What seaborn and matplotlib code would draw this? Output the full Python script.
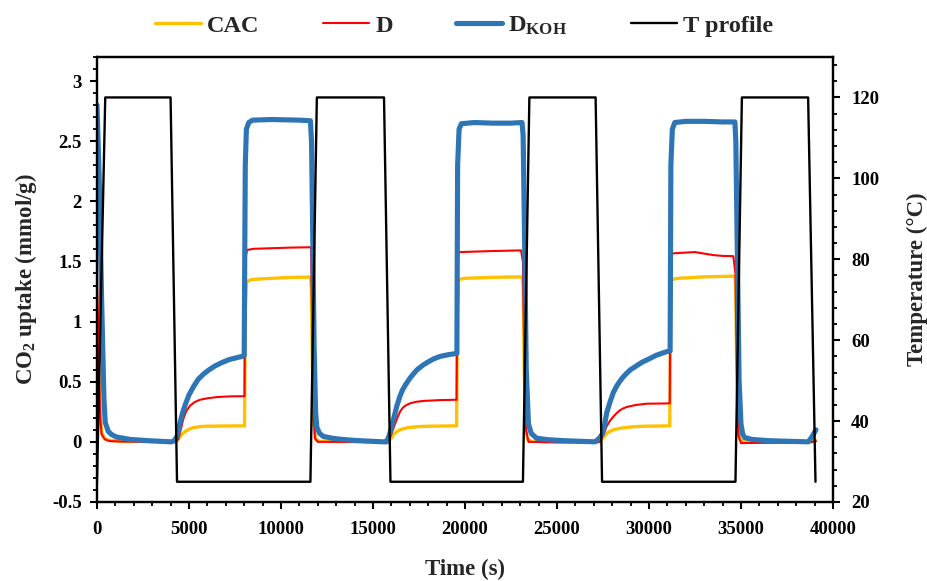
import matplotlib
matplotlib.use("Agg")
import matplotlib.pyplot as plt
import pandas as pd
import seaborn as sns
from matplotlib.lines import Line2D
from matplotlib.ticker import MultipleLocator, FuncFormatter

# ---------------- data ----------------
# Temperature programme (s, degC)
t_profile_time = [0, 450, 4000, 4350, 11600, 11950, 15600, 15950,
                  23150, 23500, 27100, 27450, 34700, 35050, 38650, 39050]
t_profile_temp = [25, 120, 120, 25, 25, 120, 120, 25,
                  25, 120, 120, 25, 25, 120, 120, 25]

# CO2 uptake of CAC (mmol/g)
cac_time = [0, 80, 160, 254, 400, 600, 1200, 2500, 4000,
            4300, 4450, 4600, 4783, 5000, 5235, 5600, 6000, 7000, 8020,
            8060, 8120, 8400, 9500, 10500, 11600,
            11650, 11700, 11780, 11880, 12100, 14000, 15600,
            15800, 16000, 16103, 16300, 16467, 16700, 17011, 17500, 18000, 19545,
            19590, 19650, 20000, 21500, 23100,
            23160, 23220, 23300, 23400, 23600, 25500, 27100,
            27350, 27483, 27600, 27700, 27880, 28062, 28400, 28787, 29300,
            29800, 31130,
            31170, 31230, 31600, 33000, 34670,
            34710, 34770, 34850, 34950, 35200, 37000, 38700, 39076]
cac_val = [1.10, 0.60, 0.25, 0.08, 0.03, 0.015, 0.006, 0.002, 0.0,
           0.0, 0.03, 0.06, 0.085, 0.105, 0.118, 0.127, 0.13, 0.132, 0.133,
           1.10, 1.33, 1.35, 1.36, 1.367, 1.37,
           1.30, 0.70, 0.15, 0.02, 0.005, 0.001, 0.0,
           0.0, 0.03, 0.058, 0.085, 0.10, 0.112, 0.12, 0.127, 0.13, 0.133,
           1.10, 1.35, 1.36, 1.368, 1.372,
           1.30, 0.60, 0.10, 0.02, 0.005, 0.001, 0.0,
           0.0, 0.03, 0.05, 0.07, 0.087, 0.10, 0.112, 0.12, 0.127,
           0.13, 0.133,
           1.10, 1.35, 1.36, 1.372, 1.378,
           1.30, 0.60, 0.10, 0.02, 0.005, 0.001, 0.0, 0.01]

# CO2 uptake of D (mmol/g)
d_time = [0, 60, 120, 180, 254, 435, 700, 1500, 4000,
          4200, 4420, 4550, 4692, 4850, 5054, 5300, 5598, 6000, 6500, 7200,
          8020,
          8050, 8150, 8500, 9500, 10500, 11600,
          11640, 11700, 11780, 11850, 12000, 14000, 15600,
          15740, 15850, 16012, 16200, 16350, 16467, 16600, 16750, 17011,
          17350, 17736, 18600, 19545,
          19580, 19650, 19765, 21359, 23044,
          23150, 23230, 23320, 23450, 25000, 27065,
          27300, 27483, 27600, 27700, 27880, 28062, 28250, 28400, 28600,
          28787, 29300, 29874, 31130,
          31160, 31266, 31800, 32500, 33000, 33496, 34000, 34583,
          34700, 34780, 34870, 35000, 36500, 38700, 39076]
d_val = [1.37, 1.00, 0.50, 0.20, 0.06, 0.02, 0.006, 0.002, 0.0,
         0.0, 0.02, 0.10, 0.19, 0.255, 0.30, 0.33, 0.35, 0.362, 0.372, 0.378,
         0.38,
         1.50, 1.595, 1.605, 1.61, 1.615, 1.618,
         1.60, 0.90, 0.20, 0.03, 0.0, 0.0, 0.0,
         0.0, 0.02, 0.07, 0.15, 0.21, 0.25, 0.28, 0.30, 0.32,
         0.333, 0.34, 0.347, 0.35,
         1.40, 1.575, 1.578, 1.586, 1.592,
         1.50, 0.60, 0.10, 0.0, -0.005, -0.005,
         0.0, 0.05, 0.09, 0.13, 0.175, 0.21, 0.24, 0.26, 0.278,
         0.29, 0.307, 0.317, 0.32,
         1.40, 1.567, 1.572, 1.578, 1.565, 1.553, 1.546, 1.544,
         1.40, 0.50, 0.05, -0.01, -0.008, -0.005, 0.005]

# CO2 uptake of D_KOH (mmol/g)
dkoh_time = [0, 120, 250, 380, 450, 616, 800, 1070, 1800, 3000, 4054,
             4200, 4364, 4500, 4650, 4800, 5000, 5250, 5500, 5800, 6100,
             6400, 6800, 7200, 7600, 8000,
             8060, 8120, 8250, 8450, 9500, 11000, 11600,
             11660, 11720, 11800, 11880, 11950, 12100, 12300, 12800, 13200,
             14000, 15000, 15600,
             15740, 15900, 16103, 16300, 16467, 16600, 16750, 17011, 17200,
             17400, 17736, 18000, 18300, 18641, 19100, 19560,
             19600, 19680, 19800, 20500, 21500, 22500, 23100,
             23160, 23230, 23330, 23450, 23600, 23897, 24500, 25342, 26200,
             27065,
             27300, 27483, 27600, 27700, 27880, 28062, 28250, 28400, 28600,
             28787, 29000, 29300, 29600, 29874, 30400, 30961, 31150,
             31190, 31270, 31400, 32000, 33000, 34000, 34670,
             34720, 34800, 34900, 35000, 35100, 35217, 35600, 36500, 37500,
             38658, 38850, 39076]
dkoh_val = [2.80, 2.20, 1.20, 0.35, 0.16, 0.086, 0.06, 0.04, 0.02, 0.008, 0.0,
            0.01, 0.05, 0.15, 0.24, 0.31, 0.39, 0.46, 0.52, 0.565, 0.60,
            0.63, 0.66, 0.685, 0.70, 0.715,
            2.30, 2.60, 2.655, 2.675, 2.68, 2.675, 2.67,
            2.50, 1.80, 0.80, 0.25, 0.12, 0.07, 0.045, 0.03, 0.022,
            0.012, 0.004, 0.0,
            0.0, 0.06, 0.18, 0.30, 0.38, 0.43, 0.47, 0.53, 0.565,
            0.60, 0.64, 0.665, 0.69, 0.71, 0.725, 0.735,
            2.30, 2.60, 2.645, 2.655, 2.65, 2.65, 2.655,
            2.55, 1.80, 0.60, 0.15, 0.07, 0.03, 0.018, 0.01, 0.005,
            0.0,
            0.03, 0.07, 0.15, 0.24, 0.33, 0.41, 0.465, 0.50, 0.54,
            0.57, 0.60, 0.63, 0.66, 0.68, 0.72, 0.75, 0.755,
            2.30, 2.60, 2.655, 2.665, 2.665, 2.66, 2.66,
            2.50, 1.60, 0.50, 0.15, 0.06, 0.035, 0.02, 0.01, 0.005,
            0.0, 0.04, 0.10]

# ---------------- style ----------------
sns.set_style("ticks")
plt.rcParams.update({
    "font.family": ["Liberation Serif", "DejaVu Serif"],
    "font.weight": "bold",
    "mathtext.fontset": "custom",
    "mathtext.rm": "Liberation Serif:bold",
    "mathtext.it": "Liberation Serif:italic:bold",
    "mathtext.bf": "Liberation Serif:bold",
    "axes.edgecolor": "black",
    "axes.linewidth": 1.6,
    "xtick.color": "black",
    "ytick.color": "black",
})

C_CAC = "#FFC000"
C_D = "#FF0000"
C_KOH = "#2E75B6"

fig = plt.figure(figsize=(9.28, 5.81), dpi=100)
ax = fig.add_axes([0.1045, 0.1360, 0.7931, 0.7659])
ax2 = ax.twinx()

sns.lineplot(data=pd.DataFrame({"t": cac_time, "v": cac_val}), x="t", y="v",
             ax=ax, color=C_CAC, lw=2.4, legend=False)
sns.lineplot(data=pd.DataFrame({"t": d_time, "v": d_val}), x="t", y="v",
             ax=ax, color=C_D, lw=1.5, legend=False)
sns.lineplot(data=pd.DataFrame({"t": dkoh_time, "v": dkoh_val}), x="t", y="v",
             ax=ax, color=C_KOH, lw=3.7, legend=False)
sns.lineplot(data=pd.DataFrame({"t": t_profile_time, "T": t_profile_temp}),
             x="t", y="T", ax=ax2, color="black", lw=1.7, legend=False)

for line in ax.lines + ax2.lines:
    line.set_solid_joinstyle("round")
    line.set_solid_capstyle("round")

# ---------------- axes ----------------
ax.set_xlim(0, 40000)
ax.set_ylim(-0.5, 3.2)
ax2.set_ylim(20, 130)

ax.xaxis.set_major_locator(MultipleLocator(5000))
ax.xaxis.set_minor_locator(MultipleLocator(1000))
ax.yaxis.set_major_locator(MultipleLocator(0.5))
ax.yaxis.set_minor_locator(MultipleLocator(0.1))
ax2.yaxis.set_major_locator(MultipleLocator(20))
ax2.yaxis.set_minor_locator(MultipleLocator(4))
ax2.set_yticks([20, 40, 60, 80, 100, 120])

ax.yaxis.set_major_formatter(FuncFormatter(lambda v, p: f"{v:g}"))
ax.xaxis.set_major_formatter(FuncFormatter(lambda v, p: f"{v:.0f}"))

for a in (ax, ax2):
    a.tick_params(which="major", direction="out", length=5, width=1.5,
                  labelsize=13.5)
    a.tick_params(which="minor", direction="out", length=3.2, width=1.3)
    for s in a.spines.values():
        s.set_visible(True)
        s.set_color("black")
        s.set_linewidth(1.6)
ax.tick_params(axis="x", which="both", top=False, pad=9)
ax.tick_params(axis="y", which="both", right=False, pad=6)
ax2.tick_params(axis="y", which="both", left=False, pad=8)
for lab in ax.get_xticklabels() + ax.get_yticklabels() + ax2.get_yticklabels():
    lab.set_fontweight("bold")

ax.set_xlabel("Time (s)", fontsize=16.5, fontweight="bold", labelpad=15)
ax.set_ylabel(r"CO$_\mathregular{2}$ uptake (mmol/g)", fontsize=16.5,
              fontweight="bold", labelpad=9)
ax2.set_ylabel("Temperature (°C)", fontsize=16.5, fontweight="bold",
               labelpad=20)
ax.grid(False)
ax2.grid(False)

# ---------------- legend ----------------
handles = [
    Line2D([], [], color=C_CAC, lw=2.4, solid_capstyle="round"),
    Line2D([], [], color=C_D, lw=1.5, solid_capstyle="round"),
    Line2D([], [], color=C_KOH, lw=3.7, solid_capstyle="round"),
    Line2D([], [], color="black", lw=1.7),
]
labels = ["CAC", "D", r"D$_\mathregular{KOH}$", "T profile"]
fig.legend(handles, labels, loc="center", bbox_to_anchor=(0.5, 0.955),
           ncol=4, frameon=False, handlelength=1.9,
           handletextpad=0.25, columnspacing=2.6,
           prop={"weight": "bold", "size": 17.5})

fig.savefig("out.png", dpi=100)
